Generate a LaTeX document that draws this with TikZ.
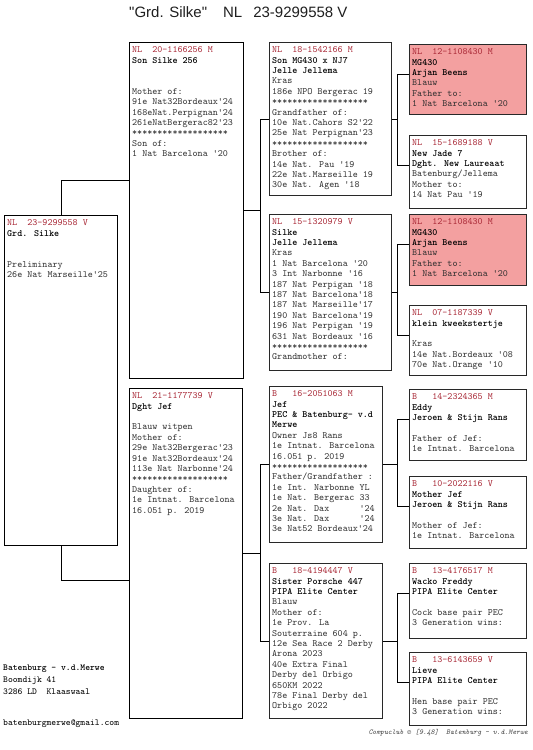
\documentclass[tikz,border=0pt]{standalone}
\usepackage{fontspec}
\usetikzlibrary{calc}
\newfontfamily\titlefont{Liberation Sans}
\definecolor{hdr}{RGB}{168,38,52}
\definecolor{pinkfill}{RGB}{243,160,160}
\definecolor{bodyc}{RGB}{45,45,45}
\definecolor{edgec}{RGB}{40,40,40}
\newcommand\pedhd[1]{\textcolor{hdr}{#1}}
\newcommand\pedname[1]{{\bfseries\color{black}#1}}
\newcommand\stars{*******************}
\tikzset{
  pbox/.style={draw=edgec, line width=1.2pt, fill=white, inner sep=0pt},
  pinkbox/.style={pbox, fill=pinkfill},
  mainbox/.style={draw=black, line width=0.9pt, fill=white, inner sep=0pt},
  txt/.style={align=left, inner sep=0pt, text=bodyc, font=\ttfamily\fontsize{9.6}{10.4}\selectfont},
  conn/.style={draw=black, line width=0.9pt},
}
% name, x, y, w, h, style, text
\newcommand\pedbox[7]{%
  \node[#6, anchor=north west, minimum width=#4, minimum height=#5] (#1) at (#2,#3) {};
  \node[txt, anchor=north west] (#1t) at ($(#1.north west)+(3,4.5)$) {#7};
}
\begin{document}
\begin{tikzpicture}[x=1pt,y=-1pt]
\useasboundingbox[fill=white] (0,0) rectangle (533,750);

% title
\node[anchor=base west, inner sep=0pt, font=\titlefont\fontsize{15}{18}\selectfont, text=black!88] (title) at (129,17.3)
  {"Grd. Silke"\hspace{16pt}NL\hspace{11pt}23-9299558 V};

% ---- main ----
\pedbox{M}{4}{215}{113}{330}{mainbox}{%
\pedhd{NL~~23-9299558 V}\\
\pedname{Grd. Silke}\\[20.8pt]
Preliminary\\
26e Nat Marseille'25}

% ---- generation 1 ----
\pedbox{A}{129}{42}{114}{336}{mainbox}{%
\pedhd{NL~~20-1166256 M}\\
\pedname{Son Silke 256}\\[20.8pt]
Mother of:\\
91e Nat32Bordeaux'24\\
168eNat.Perpignan'24\\
261eNatBergerac82'23\\
\stars\\
Son of:\\
1 Nat Barcelona '20}

\pedbox{B}{129}{388}{113}{330}{mainbox}{%
\pedhd{NL~~21-1177739 V}\\
\pedname{Dght Jef}\\[10.4pt]
Blauw witpen\\
Mother of:\\
29e Nat32Bergerac'23\\
91e Nat32Bordeaux'24\\
113e Nat Narbonne'24\\
\stars\\
Daughter of:\\
1e Intnat. Barcelona\\
16.051 p. 2019}

% ---- generation 2 ----
\pedbox{P1}{269}{42}{122}{153}{pbox}{%
\pedhd{NL~~18-1542166 M}\\
\pedname{Son MG430 x NJ7}\\
\pedname{Jelle Jellema}\\
Kras\\
186e NPO Bergerac 19\\
\stars\\
Grandfather of:\\
10e Nat.Cahors S2'22\\
25e Nat Perpignan'23\\
\stars\\
Brother of:\\
14e Nat. Pau '19\\
22e Nat.Marseille 19\\
30e Nat. Agen '18}

\pedbox{P2}{269}{214}{122}{156}{pbox}{%
\pedhd{NL~~15-1320979 V}\\
\pedname{Silke}\\
\pedname{Jelle Jellema}\\
Kras\\
1 Nat Barcelona '20\\
3 Int Narbonne '16\\
187 Nat Perpigan '18\\
187 Nat Barcelona'18\\
187 Nat Marseille'17\\
190 Nat Barcelona'19\\
196 Nat Perpigan '19\\
631 Nat Bordeaux '16\\
\stars\\
Grandmother of:}

\pedbox{P3}{269}{386}{113}{156}{pbox}{%
\pedhd{B~~~16-2051063 M}\\
\pedname{Jef}\\
\pedname{PEC \& Batenburg- v.d}\\
\pedname{Merwe}\\
Owner Js8 Rans\\
1e Intnat. Barcelona\\
16.051 p. 2019\\
\stars\\
Father/Grandfather :\\
1e Int. Narbonne YL\\
1e Nat. Bergerac 33\\
2e Nat. Dax~~~~~~'24\\
3e Nat. Dax~~~~~~'24\\
3e Nat52 Bordeaux'24}

\pedbox{P4}{269}{563}{113}{155}{pbox}{%
\pedhd{B~~~18-4194447 V}\\
\pedname{Sister Porsche 447}\\
\pedname{PIPA Elite Center}\\
Blauw\\
Mother of:\\
1e Prov. La\\
Souterraine 604 p.\\
12e Sea Race 2 Derby\\
Arona 2023\\
40e Extra Final\\
Derby del Orbigo\\
650KM 2022\\
78e Final Derby del\\
Orbigo 2022}

% ---- generation 3 ----
\pedbox{G1}{409}{44}{117}{70}{pinkbox}{%
\pedhd{NL~~12-1108430 M}\\
\pedname{MG430}\\
\pedname{Arjan Beens}\\
Blauw\\
Father to:\\
1 Nat Barcelona '20}

\pedbox{G2}{409}{135}{117}{73}{pbox}{%
\pedhd{NL~~15-1689188 V}\\
\pedname{New Jade 7}\\
\pedname{Dght. New Laureaat}\\
Batenburg/Jellema\\
Mother to:\\
14 Nat Pau '19}

\pedbox{G3}{409}{214}{117}{71}{pinkbox}{%
\pedhd{NL~~12-1108430 M}\\
\pedname{MG430}\\
\pedname{Arjan Beens}\\
Blauw\\
Father to:\\
1 Nat Barcelona '20}

\pedbox{G4}{409}{305}{117}{70}{pbox}{%
\pedhd{NL~~07-1187339 V}\\
\pedname{klein kweekstertje}\\[10.4pt]
Kras\\
14e Nat.Bordeaux '08\\
70e Nat.Orange '10}

\pedbox{G5}{409}{389}{117}{71}{pbox}{%
\pedhd{B~~~14-2324365 M}\\
\pedname{Eddy}\\
\pedname{Jeroen \& Stijn Rans}\\[10.4pt]
Father of Jef:\\
1e Intnat. Barcelona}

\pedbox{G6}{409}{476}{117}{72}{pbox}{%
\pedhd{B~~~10-2022116 V}\\
\pedname{Mother Jef}\\
\pedname{Jeroen \& Stijn Rans}\\[10.4pt]
Mother of Jef:\\
1e Intnat. Barcelona}

\pedbox{G7}{409}{563}{117}{75}{pbox}{%
\pedhd{B~~~13-4176517 M}\\
\pedname{Wacko Freddy}\\
\pedname{PIPA Elite Center}\\[10.4pt]
Cock base pair PEC\\
3 Generation wins:}

\pedbox{G8}{409}{652}{117}{73}{pbox}{%
\pedhd{B~~~13-6143659 V}\\
\pedname{Lieve}\\
\pedname{PIPA Elite Center}\\[10.4pt]
Hen base pair PEC\\
3 Generation wins:}

% ---- connectors ----
\draw[conn] (M.north) |- ($(A.north west)+(0,138)$);
\draw[conn] (M.south) |- ($(B.north west)+(0,192)$);

\draw[conn] (A.east) -- ++(17,0);
\draw[conn] (P1.west) -- ++(-9,0) |- (P2.west);
\draw[conn] (B.east) -- ++(18,0);
\draw[conn] (P3.west) -- ++(-9,0) |- (P4.west);

\draw[conn] (P1.east) -- ++(6,0);
\draw[conn] ($(G1.north west)+(0,30)$) -- ++(-12,0) |- ($(G2.north west)+(0,30)$);
\draw[conn] (P2.east) -- ++(6,0);
\draw[conn] ($(G3.north west)+(0,30)$) -- ++(-12,0) |- ($(G4.north west)+(0,30)$);
\draw[conn] (P3.east) -- ++(15,0);
\draw[conn] ($(G5.north west)+(0,30)$) -- ++(-12,0) |- ($(G6.north west)+(0,30)$);
\draw[conn] (P4.east) -- ++(15,0);
\draw[conn] ($(G7.north west)+(0,30)$) -- ++(-12,0) |- ($(G8.north west)+(0,30)$);

% ---- footer texts ----
\node[txt, anchor=north west, text=black, font=\ttfamily\fontsize{9.2}{12}\selectfont] (addr) at (3,665)
  {\pedname{Batenburg - v.d.Merwe}\\Boomdijk 41\\3286 LD~~Klaaswaal};
\node[txt, anchor=north west, text=black, font=\ttfamily\fontsize{9.2}{12}\selectfont] (mail) at (3,720)
  {batenburgmerwe@gmail.com};
\node[anchor=base east, inner sep=0pt, text=black!75, font=\ttfamily\itshape\fontsize{7.4}{8}\selectfont] (foot) at (528,734)
  {Compuclub © [9.48]~~Batenburg - v.d.Merwe};
\end{tikzpicture}
\end{document}
